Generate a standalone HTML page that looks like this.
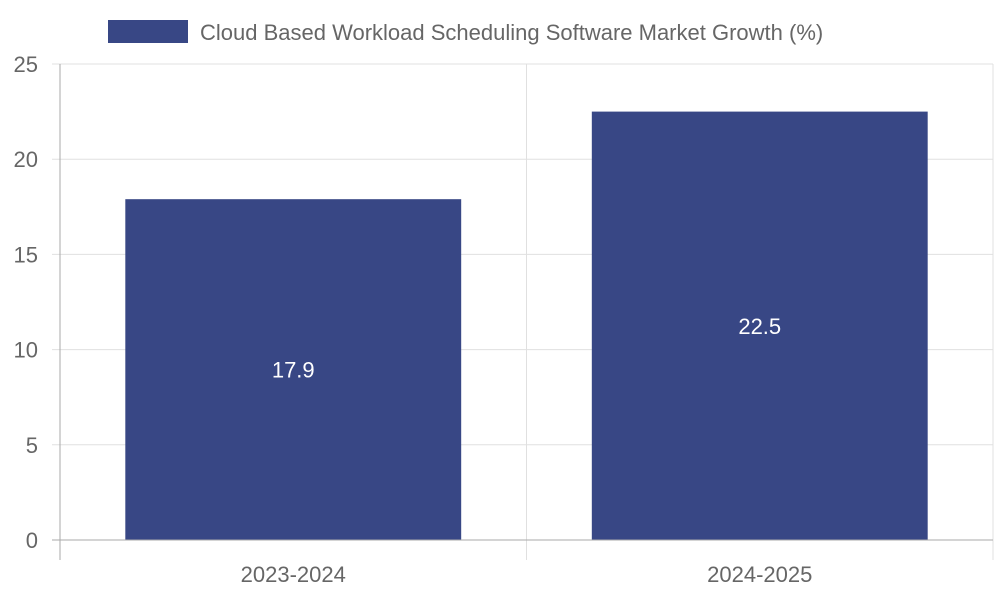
<!DOCTYPE html>
<html><head><meta charset="utf-8"><style>
html,body{margin:0;padding:0;background:#fff;width:1000px;height:600px;overflow:hidden}
svg{display:block;font-family:"Liberation Sans",Arial,sans-serif}
</style></head><body>
<svg id="chart" width="1000" height="600" viewBox="0 0 1000 600">
<g id="grid"></g>
<g id="bars"></g>
<g id="axes"></g>
<g>
<rect x="108" y="20" width="80" height="23" fill="#384785"/>
<text x="200" y="40" font-size="22" fill="#666">Cloud Based Workload Scheduling Software Market Growth (%)</text>
</g>
</svg>
<script>
const categories = ["2023-2024", "2024-2025"];
const values = [17.9, 22.5];
const yTicks = [0, 5, 10, 15, 20, 25];
const NS = "http://www.w3.org/2000/svg";
const L = 60, R = 993, T = 64, B = 540, yMax = 25;
const y = v => B - (v / yMax) * (B - T);
const band = (R - L) / categories.length;
const x = i => L + band * i;
function mk(tag, attrs, parent, text) {
  const e = document.createElementNS(NS, tag);
  for (const k in attrs) e.setAttribute(k, attrs[k]);
  if (text !== undefined) e.textContent = text;
  parent.appendChild(e);
  return e;
}
const grid = document.getElementById("grid"), bars = document.getElementById("bars"), axes = document.getElementById("axes");
yTicks.forEach(t => {
  const ln = mk("line", {x1: 52, x2: R, y1: y(t), y2: y(t), stroke: t === 0 ? "#aaa" : "#e0e0e0", "stroke-width": 1}, t === 0 ? axes : grid);
  
  
  const lb = mk("text", {x: 38, y: y(t) + 8, "text-anchor": "end", "font-size": 22, fill: "#666"}, axes, String(t));
  
  
});
for (let i = 0; i <= categories.length; i++) {
  const ln = mk("line", {x1: x(i), x2: x(i), y1: T, y2: 560, stroke: i === 0 ? "#aaa" : "#e0e0e0", "stroke-width": 1}, i === 0 ? axes : grid);
  
  
}
categories.forEach((c, i) => {
  const bw = band * 0.72, bx = x(i) + (band - bw) / 2;
  const r = mk("rect", {x: bx, y: y(values[i]), width: bw, height: B - y(values[i]), fill: "#384785"}, bars);
  
  
  const v = mk("text", {x: bx + bw / 2, y: (y(values[i]) + B) / 2 + 8, "text-anchor": "middle", "font-size": 22, fill: "#fff"}, bars, String(values[i]));
  
  
  const lb = mk("text", {x: x(i) + band / 2, y: 582, "text-anchor": "middle", "font-size": 22, fill: "#666"}, axes, c);
  
  
});
</script>
</body></html>
